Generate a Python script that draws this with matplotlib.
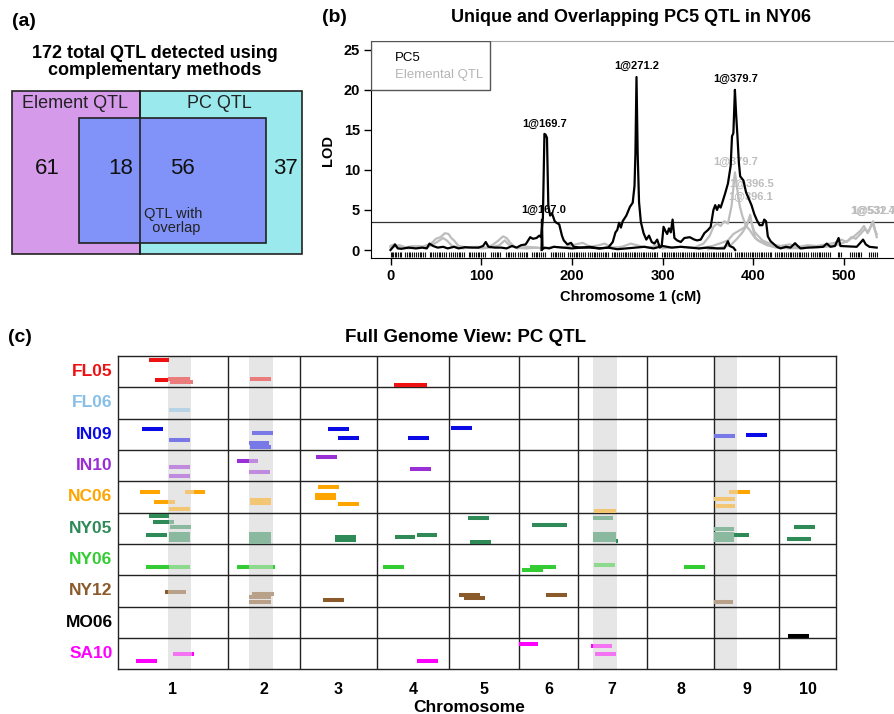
import matplotlib.pyplot as plt
from matplotlib.patches import Rectangle
from matplotlib.transforms import blended_transform_factory
import numpy as np

plt.rcParams['font.family'] = ['Liberation Sans', 'DejaVu Sans']

# ---------------- Panel (a): counts ----------------
element_only = 61
element_overlap = 18
pc_overlap = 56
pc_only = 37

# ---------------- Panel (b): LOD profiles on chromosome 1 ----------------
pc5_cm = [0, 3, 5, 8, 12, 20, 28, 35, 40, 43, 47, 52, 58, 63, 70, 75, 82, 90, 97, 102,
          105, 108, 115, 122, 128, 134, 139, 144, 149, 154, 157, 161, 164, 166, 168, 169.7,
          171, 172.5, 174, 176, 178, 181, 183, 186, 189, 191, 195, 199, 202, 210, 220, 230,
          240, 245, 248, 250, 252, 254, 256, 260, 264, 267, 269, 270, 271.2, 272.5, 274, 276,
          279, 282, 285, 288, 291, 294, 297, 299, 301, 303, 305, 307, 309, 311, 313, 316,
          320, 324, 330, 335, 338, 342, 346, 350, 353, 356, 358, 360, 362, 364, 366, 369,
          372, 375, 376.5, 378, 379.7, 381, 382.5, 384, 385.5, 389, 392, 395, 398, 401, 404,
          407, 410, 412, 414, 416, 419, 422, 426, 430, 436, 441, 446, 449, 452, 460, 470,
          477, 481, 485, 490, 494, 496, 505, 514, 518, 521, 524, 528, 536]
pc5_lod = [0.0, 0.4, 0.7, 0.2, 0.15, 0.3, 0.2, 0.3, 0.2, 0.8, 0.5, 0.3, 0.4, 0.2, 0.4, 0.2, 0.35, 0.3, 0.3, 0.5,
           1.0, 0.4, 0.3, 0.3, 0.2, 0.5, 0.3, 0.6, 0.7, 1.6, 1.4, 1.5, 1.8, 1.6, 4.0, 14.5,
           14.4, 14.0, 5.5, 4.3, 4.6, 3.6, 3.4, 3.2, 1.8, 1.2, 0.7, 0.9, 0.4, 0.3, 0.3, 0.2,
           0.3, 1.0, 2.2, 2.5, 3.4, 2.8, 3.6, 4.3, 5.4, 5.9, 8.0, 12.0, 21.6, 12.0, 6.0, 3.5,
           2.1, 1.3, 1.8, 1.0, 0.8, 1.3, 0.3, 0.5, 2.9, 2.4, 2.0, 2.7, 2.2, 3.8, 1.5, 1.2,
           1.0, 1.5, 1.6, 1.3, 1.2, 1.3, 2.1, 2.5, 2.9, 5.0, 5.6, 5.0, 5.6, 5.3, 6.0, 7.1,
           8.3, 10.5, 14.2, 14.6, 20.0, 17.0, 14.2, 11.0, 9.2, 8.7, 7.2, 6.4, 5.6, 4.5, 3.7,
           3.1, 3.1, 3.8, 3.6, 1.7, 1.1, 0.8, 0.4, 0.2, 0.4, 0.3, 0.85, 0.5, 0.2, 0.3, 0.35,
           0.4, 0.8, 0.4, 0.5, 1.5, 0.5, 0.45, 0.4, 0.9, 1.3, 0.7, 0.4, 0.3]

pc5b_cm = [166.5, 167.0, 167.6, 170, 175, 180, 190, 200, 210, 220, 230, 240, 250, 260, 270,
           280, 290, 300, 310, 320, 330, 340, 350, 360, 368, 372, 374, 378, 380]
pc5b_lod = [0.0, 3.8, 0.1, 0.3, 0.2, 0.4, 0.3, 0.2, 0.3, 0.4, 0.2, 0.3, 0.1, 0.2, 0.3,
            0.4, 0.2, 0.5, 0.3, 0.4, 0.3, 0.2, 0.3, 0.2, 0.2, 1.1, 0.5, 0.3, 0.0]

elem1_cm = [0, 4, 8, 15, 25, 35, 45, 50, 55, 60, 64, 67, 70, 75, 85, 95, 105, 112, 118, 124,
            128, 132, 138, 150, 160, 170, 180, 190, 200, 212, 220, 230, 236, 245, 255, 265,
            275, 285, 295, 305]
elem1_lod = [0.5, 0.7, 0.4, 0.3, 0.5, 0.4, 0.8, 1.4, 1.6, 2.1, 2.0, 1.5, 1.2, 0.5, 0.3, 0.4, 0.3, 0.6, 1.1, 1.7,
             1.5, 0.9, 0.3, 0.2, 0.3, 0.2, 0.4, 0.3, 0.6, 0.9, 0.4, 0.6, 0.8, 0.3, 0.4, 0.8,
             0.5, 0.3, 0.6, 0.3]
elem2_cm = [0, 10, 20, 30, 40, 50, 58, 62, 68, 80, 90, 100, 110, 120, 126, 130, 140, 150, 160, 168]
elem2_lod = [0.3, 0.6, 0.2, 0.5, 0.3, 0.9, 1.5, 1.2, 0.5, 0.2, 0.4, 0.2, 0.3, 0.6, 1.2, 0.7, 0.2, 0.4, 0.3, 0.2]
elem3_cm = [300, 320, 335, 345, 352, 356, 360, 364, 368, 372, 376, 379.7, 382, 385, 388, 392, 396,
            400, 405, 412, 420, 430, 440, 450, 460, 470, 480, 490, 497, 503, 508, 513, 518,
            523, 527, 532, 534, 536]
elem3_lod = [0.2, 0.4, 0.3, 0.8, 1.8, 2.9, 3.3, 3.0, 3.6, 3.3, 5.5, 9.7, 7.8, 5.5, 4.2, 3.0, 2.5,
             1.8, 1.2, 0.9, 0.7, 0.5, 0.7, 0.4, 0.6, 0.5, 0.7, 0.9, 1.3, 1.0, 1.6, 1.4, 2.0,
             2.6, 2.3, 3.6, 2.6, 1.6]
elem4_cm = [340, 355, 365, 372, 378, 384, 390, 394, 396.5, 399, 402, 408, 415, 425, 440, 460,
            480, 495, 505, 512, 518, 522, 526, 531.4, 534, 536]
elem4_lod = [0.2, 0.5, 0.9, 1.2, 2.0, 2.4, 2.8, 3.5, 4.4, 2.9, 1.5, 1.0, 0.6, 0.3, 0.2, 0.3,
             0.4, 0.7, 1.2, 1.8, 2.4, 3.0, 2.1, 3.4, 2.5, 2.0]
elem5_cm = [350, 365, 375, 382, 388, 393, 396.1, 398, 401, 405, 410, 418, 428, 440, 455]
elem5_lod = [0.1, 0.3, 0.6, 1.4, 2.2, 3.1, 4.0, 3.4, 2.3, 1.8, 1.2, 0.8, 0.5, 0.3, 0.2]

lod_threshold = 3.45

pc5_peak_labels = ['1@169.7', '1@271.2', '1@379.7', '1@167.0']
pc5_peak_cm = [170, 272, 381, 169]
pc5_peak_lod = [15.7, 23.0, 21.4, 5.0]
elem_peak_labels = ['1@379.7', '1@396.5', '1@396.1', '1@531.4', '1@532.7']
elem_peak_cm = [381, 398, 397, 531.5, 533]
elem_peak_lod = [11.0, 8.2, 6.6, 4.9, 4.9]

markers_cm = [0, 1.5, 3, 4.5, 6, 8, 10, 12, 16, 18, 20, 22, 24, 26, 28, 30, 32, 34, 36, 38, 43, 45,
              47, 49, 51, 53, 55, 57, 59, 61, 65, 67, 69, 71, 73, 75, 77, 79, 81, 86, 88, 90, 92,
              94, 96, 98, 100, 102, 104, 111, 113, 115, 117, 119, 121, 127, 129, 131, 133, 135,
              137, 141, 143, 145, 147, 149, 151, 156, 158, 160, 162, 164, 166, 168, 170, 177,
              179, 181, 183, 185, 187, 189, 191, 196, 198, 200, 202, 204, 206, 208, 210, 212,
              214, 218, 220, 222, 224, 226, 228, 230, 232, 234, 236, 238, 240, 244, 246, 248,
              250, 252, 254, 256, 258, 260, 262, 264, 266, 268, 270, 272, 274, 276, 278, 280,
              282, 284, 286, 288, 290, 292, 294, 299, 301, 303, 305, 307, 309, 311, 313, 315,
              317, 319, 321, 323, 325, 327, 329, 331, 333, 335, 337, 339, 341, 343, 345, 347,
              349, 351, 353, 355, 357, 359, 361, 363, 365, 367, 369, 371, 373, 375, 380, 382,
              384, 386, 388, 390, 392, 394, 396, 398, 400, 402, 404, 406, 408, 410, 412, 414,
              416, 418, 420, 424, 426, 428, 430, 432, 434, 436, 438, 440, 442, 444, 446, 448,
              450, 452, 454, 456, 458, 460, 464, 466, 468, 470, 472, 474, 476, 478, 480, 482,
              484, 493, 495, 497, 507, 509, 511, 513, 515, 517, 519, 528, 530, 532, 534, 536]

# ---------------- Panel (c): QTL intervals, genome wide ----------------
environments = ['FL05', 'FL06', 'IN09', 'IN10', 'NC06', 'NY05', 'NY06', 'NY12', 'MO06', 'SA10']
env_colors = ['#ee1111', '#87bfe6', '#0a0ae6', '#9a2fd6', '#ffa500',
              '#2e8b57', '#33cc33', '#8b5a2b', '#000000', '#ff00ff']
chrom_lengths = [540, 357, 379, 359, 346, 288, 341, 334, 321, 280]   # cM

band_chroms = [1, 2, 7, 9]
band_start = [244, 104, 74, 0]
band_end = [361, 222, 193, 111]

# (chromosome, start cM, end cM, overlaps an element QTL)
fl05_qtl = [(1, 152, 250, 0), (1, 181, 247, 0), (1, 245, 354, 1), (1, 255, 369, 1),
            (2, 110, 212, 1), (4, 85, 250, 0)]
fl05_lane = [.13, .78, .74, .82, .73, .94]
fl06_qtl = [(1, 250, 354, 1)]
fl06_lane = [.73]
in09_qtl = [(1, 119, 221, 0), (1, 250, 354, 1), (2, 122, 225, 1), (2, 104, 206, 1),
            (2, 110, 212, 1), (3, 137, 242, 0), (3, 188, 291, 0), (4, 155, 258, 0),
            (5, 8, 114, 0), (9, 0, 100, 1), (9, 157, 262, 0)]
in09_lane = [.34, .67, .45, .78, .89, .34, .62, .62, .29, .56, .51]
in10_qtl = [(1, 250, 354, 1), (1, 250, 354, 1), (2, 47, 104, 0), (2, 104, 150, 1),
            (2, 107, 209, 1), (3, 79, 181, 0), (4, 165, 267, 0)]
in10_lane = [.55, .83, .34, .34, .70, .23, .62]
nc06_qtl = [(1, 106, 207, 0), (1, 178, 247, 0), (1, 247, 280, 1), (1, 330, 374, 1),
            (1, 374, 430, 0), (1, 250, 354, 1), (2, 110, 212, 1), (2, 110, 212, 1),
            (3, 89, 191, 0), (3, 76, 178, 0), (3, 76, 178, 0), (3, 188, 291, 0),
            (7, 82, 188, 1), (9, 73, 116, 1), (9, 116, 176, 0), (9, 0, 101, 1), (9, 2, 104, 1)]
nc06_lane = [.34, .67, .67, .34, .34, .88, .60, .70, .17, .44, .53, .73, .94, .34, .34, .57, .78]
ny05_qtl = [(1, 152, 252, 0), (1, 170, 252, 0), (1, 252, 275, 1), (1, 255, 359, 1),
            (1, 137, 239, 0), (1, 250, 354, 1), (1, 250, 354, 1), (1, 250, 354, 1),
            (2, 107, 212, 1), (2, 107, 212, 1), (2, 107, 212, 1), (2, 107, 212, 1),
            (3, 171, 275, 0), (3, 171, 275, 0), (4, 89, 191, 0), (4, 198, 299, 0),
            (5, 94, 196, 0), (5, 104, 207, 0), (6, 61, 234, 0), (7, 74, 176, 1),
            (7, 74, 188, 1), (7, 74, 188, 1), (7, 74, 188, 1), (7, 188, 201, 0),
            (9, 0, 97, 1), (9, 0, 97, 1), (9, 0, 97, 1), (9, 0, 97, 1), (9, 97, 170, 0),
            (10, 71, 175, 0), (10, 38, 158, 0)]
ny05_lane = [.12, .30, .30, .45, .72, .68, .78, .87, .68, .78, .87, .93, .78, .87, .78, .72,
             .17, .94, .39, .17, .68, .78, .87, .91, .51, .68, .78, .87, .72, .45, .84]
ny06_qtl = [(1, 137, 250, 0), (1, 250, 354, 1), (2, 44, 104, 0), (2, 104, 222, 1),
            (2, 222, 235, 0), (4, 31, 133, 0), (6, 13, 116, 0), (6, 53, 180, 0),
            (7, 82, 184, 1), (8, 186, 288, 0)]
ny06_lane = [.73, .73, .73, .73, .73, .73, .83, .73, .67, .73]
ny12_qtl = [(1, 232, 247, 0), (1, 247, 334, 1), (2, 120, 229, 1), (2, 107, 212, 1),
            (2, 107, 212, 1), (3, 112, 216, 0), (5, 49, 153, 0), (5, 74, 176, 0),
            (6, 132, 234, 0), (9, 0, 94, 1)]
ny12_lane = [.52, .52, .61, .69, .84, .79, .62, .73, .63, .84]
mo06_qtl = [(10, 41, 145, 0)]
mo06_lane = [.94]
sa10_qtl = [(1, 87, 193, 0), (1, 272, 364, 1), (1, 364, 374, 0), (4, 201, 303, 0),
            (6, 0, 94, 0), (7, 64, 74, 0), (7, 74, 168, 1), (7, 84, 188, 1)]
sa10_lane = [.73, .51, .51, .73, .19, .25, .25, .51]

env_qtl = [fl05_qtl, fl06_qtl, in09_qtl, in10_qtl, nc06_qtl,
           ny05_qtl, ny06_qtl, ny12_qtl, mo06_qtl, sa10_qtl]
env_lanes = [fl05_lane, fl06_lane, in09_lane, in10_lane, nc06_lane,
             ny05_lane, ny06_lane, ny12_lane, mo06_lane, sa10_lane]

W, H = 895, 714
BAND_GREY = '#e6e6e6'


def fx(x):
    return x / W


def fy(y):
    return 1 - y / H


def bold_ticks(ax):
    for lab in ax.get_xticklabels() + ax.get_yticklabels():
        lab.set_fontweight('bold')


fig = plt.figure(figsize=(W / 100, H / 100), dpi=100)

# ======================= (a) =======================
ax_a = fig.add_axes([0, fy(300), fx(310), 300 / H])
ax_a.set_xlim(0, 310)
ax_a.set_ylim(300, 0)
ax_a.axis('off')

ax_a.add_patch(Rectangle((12.3, 90.7), 127.7, 163.6, fc='#d59ae9', ec='#222222', lw=1.2))
ax_a.add_patch(Rectangle((140, 90.7), 161.7, 163.6, fc='#9ae9ec', ec='#222222', lw=1.2))
ax_a.add_patch(Rectangle((79.3, 117.7), 186.4, 125.6, fc='#8193f8', ec='#222222', lw=1.2))
ax_a.plot([140, 140], [90.7, 254.3], color='#222222', lw=1.2)

ax_a.text(75, 103, 'Element QTL', ha='center', va='center', fontsize=13, color='#222222')
ax_a.text(219, 103, 'PC QTL', ha='center', va='center', fontsize=13, color='#222222')
for xpos, val in zip([47, 121, 182, 285], [element_only, element_overlap, pc_overlap, pc_only]):
    ax_a.text(xpos, 169, str(val), ha='center', va='center', fontsize=16, color='#111111')
ax_a.text(144, 221, 'QTL with\n  overlap', ha='left', va='center', fontsize=10.5,
          color='#222222', linespacing=1.0)

fig.text(fx(12), fy(22), '(a)', fontsize=14, fontweight='bold', va='center')
fig.text(fx(155), fy(62), '172 total QTL detected using\ncomplementary methods',
         ha='center', va='center', fontsize=13, fontweight='bold', linespacing=1.0)

# ======================= (b) =======================
ax_b = fig.add_axes([fx(371), fy(257.7), (900 - 371) / W, 216.7 / H])
ax_b.set_xlim(-21.5, 561.7)
ax_b.set_ylim(-0.96, 26.1)

grey = '#bdbdbd'
for cm, lod in [(elem1_cm, elem1_lod), (elem2_cm, elem2_lod), (elem3_cm, elem3_lod),
                (elem4_cm, elem4_lod), (elem5_cm, elem5_lod)]:
    ax_b.plot(cm, lod, color=grey, lw=1.6, zorder=2)
ax_b.plot(pc5b_cm, pc5b_lod, color='black', lw=1.6, zorder=3)
ax_b.plot(pc5_cm, pc5_lod, color='black', lw=1.6, zorder=3)
ax_b.axhline(lod_threshold, color='#333333', lw=0.9, zorder=1)
ax_b.vlines(markers_cm, -0.93, -0.22, color='#111111', lw=0.8)

for lab, x, y in zip(elem_peak_labels, elem_peak_cm, elem_peak_lod):
    ax_b.text(x, y, lab, ha='center', va='center', fontsize=8, fontweight='bold',
              color=grey, zorder=1)
for lab, x, y in zip(pc5_peak_labels, pc5_peak_cm, pc5_peak_lod):
    ax_b.text(x, y, lab, ha='center', va='center', fontsize=8, fontweight='bold',
              color='black', zorder=4)

ax_b.set_xticks([0, 100, 200, 300, 400, 500])
ax_b.set_yticks([0, 5, 10, 15, 20, 25])
ax_b.tick_params(labelsize=10.5, length=5, width=1, pad=3)
bold_ticks(ax_b)
ax_b.spines['right'].set_visible(False)
ax_b.spines['top'].set_color('#aaaaaa')

# legend box (text only, as in the original)
ax_b.add_patch(Rectangle((0, 0.774), 0.225, 0.226, transform=ax_b.transAxes,
                         fc='white', ec='#555555', lw=1.0, zorder=5))
ax_b.text(0.045, 0.92, 'PC5', transform=ax_b.transAxes, fontsize=9.5, va='center', zorder=6)
ax_b.text(0.045, 0.843, 'Elemental QTL', transform=ax_b.transAxes, fontsize=9.5,
          va='center', color='#b5b5b5', zorder=6)

fig.text(fx(322), fy(18), '(b)', fontsize=14, fontweight='bold', va='center')
fig.text(fx(631), fy(18), 'Unique and Overlapping PC5 QTL in NY06', ha='center',
         va='center', fontsize=13, fontweight='bold')
fig.text(fx(328), fy(150), 'LOD', rotation=90, ha='center', va='center',
         fontsize=10.5, fontweight='bold')
fig.text(fx(631), fy(297), 'Chromosome 1 (cM)', ha='center', va='center',
         fontsize=10.5, fontweight='bold')

# ======================= (c) =======================
ax_c = fig.add_axes([fx(118.3), fy(669.3), 717.7 / W, 313.3 / H])
offsets = np.concatenate([[0], np.cumsum(chrom_lengths)[:-1]])
total = sum(chrom_lengths)
n_env = len(environments)
ax_c.set_xlim(0, total)
ax_c.set_ylim(n_env, 0)

for chrom, s, e in zip(band_chroms, band_start, band_end):
    off = offsets[chrom - 1]
    ax_c.axvspan(off + s, off + e, color=BAND_GREY, lw=0, zorder=0)

for off in offsets[1:]:
    ax_c.axvline(off, color='#222222', lw=1.0, zorder=1)
for i in range(1, n_env):
    ax_c.axhline(i, color='#222222', lw=1.0, zorder=1)

for i, (qtls, lanes, col) in enumerate(zip(env_qtl, env_lanes, env_colors)):
    base = np.array(plt.matplotlib.colors.to_rgb(col))
    light = 0.5 * base + 0.5 * np.array(plt.matplotlib.colors.to_rgb(BAND_GREY))
    for (chrom, s, e, ov), lane in zip(qtls, lanes):
        off = offsets[chrom - 1]
        ax_c.hlines(i + lane, off + s, off + e, color=light if ov else col,
                    lw=2.9, capstyle='butt', zorder=3)

ax_c.set_xticks(offsets + np.array(chrom_lengths) / 2)
ax_c.set_xticklabels([str(c) for c in range(1, 11)])
ax_c.set_yticks([])
ax_c.tick_params(axis='x', length=0, labelsize=11.5, pad=9)
bold_ticks(ax_c)
for sp in ax_c.spines.values():
    sp.set_color('#222222')
    sp.set_linewidth(1.0)

trans = blended_transform_factory(ax_c.transAxes, ax_c.transData)
for i, (env, col) in enumerate(zip(environments, env_colors)):
    ax_c.text(-0.008, i + 0.5, env, transform=trans, ha='right', va='center',
              fontsize=12.5, fontweight='bold', color=col)

fig.text(fx(8), fy(338), '(c)', fontsize=14, fontweight='bold', va='center')
fig.text(fx(466), fy(338), 'Full Genome View: PC QTL', ha='center', va='center',
         fontsize=13.5, fontweight='bold')
fig.text(fx(469), fy(707), 'Chromosome', ha='center', va='center',
         fontsize=12.5, fontweight='bold')

fig.savefig('out.png', dpi=100)
